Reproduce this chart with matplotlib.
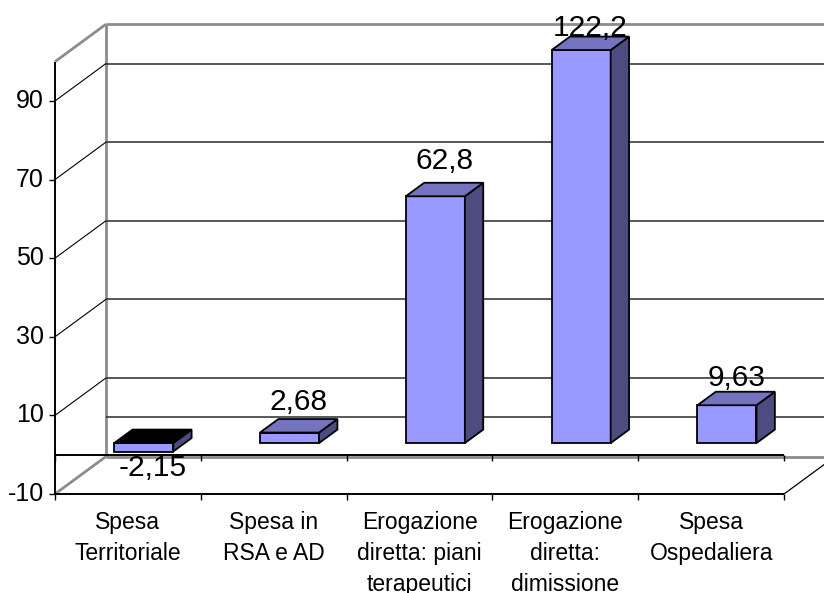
import matplotlib.pyplot as plt
from matplotlib.patches import Polygon

plt.rcParams['font.family'] = ['Liberation Sans', 'DejaVu Sans']

# data
categories = ['Spesa\nTerritoriale', 'Spesa in\nRSA e AD',
              'Erogazione\ndiretta: piani\nterapeutici',
              'Erogazione\ndiretta:\ndimissione', 'Spesa\nOspedaliera']
values = [-2.15, 2.68, 62.8, 122.2, 9.63]
yticks = [-10, 10, 30, 50, 70, 90]
ymin, ymax = -10, 100

# pseudo-3D geometry (oblique projection, depth in data units)
DX, DY = 0.350, 9.54          # full wall depth: categories / value units
T1, T2 = 0.31, 0.67           # bar front / back depth
BAR_W = 0.405
label_dy = [-23, 24, 29, 15, 20]   # px, label offset from bar top

front_c = '#9999FF'
top_c = '#7373BF'
side_c = '#4C4C80'


def p(c, v, t):
    return (c + t * DX, v + t * DY)


def seg(a, b, **kw):
    ax.plot([a[0], b[0]], [a[1], b[1]], solid_capstyle='butt', **kw)


fig = plt.figure(figsize=(8.24, 5.93), dpi=100)
ax = fig.add_axes([0, 0, 1, 1])
ax.axis('off')
ax.set_xlim(-0.377, 5.274)
ax.set_ylim(-35.19, 115.70)

n = len(categories)
frame = dict(color='#8C8C8C', lw=2, zorder=1)

# back wall + floor outline
seg(p(0, ymax, 1), p(n, ymax, 1), **frame)
seg(p(0, ymin, 1), p(0, ymax, 1), **frame)
seg(p(0, ymax, 0), p(0, ymax, 1), **frame)
seg(p(0, ymin, 0), p(0, ymin, 1), **frame)
seg(p(0, ymin, 1), p(n, ymin, 1), **frame)
seg(p(n, ymin, 0), p(n, ymin, 1), color='black', lw=0.9, zorder=1)

# gridlines on back and side walls
for v in [90, 70, 50, 30, 10, 0]:
    seg(p(0, v, 1), p(n, v, 1), color='#2A2A2A', lw=1.1, zorder=1)
for v in yticks[1:]:
    seg(p(0, v, 0), p(0, v, 1), color='black', lw=0.8, zorder=1)

# bars
for i, val in enumerate(values):
    c1 = i + 0.5 - BAR_W / 2
    c2 = c1 + BAR_W
    top = min(val, ymax)
    lo, hi = min(0, top), max(0, top)
    kw = dict(edgecolor='black', lw=1.3, joinstyle='miter', zorder=2)
    ax.add_patch(Polygon([p(c1, lo, T1), p(c2, lo, T1), p(c2, hi, T1), p(c1, hi, T1)],
                         facecolor=front_c, **kw))
    ax.add_patch(Polygon([p(c2, lo, T1), p(c2, lo, T2), p(c2, hi, T2), p(c2, hi, T1)],
                         facecolor=side_c, **kw))
    ax.add_patch(Polygon([p(c1, hi, T1), p(c2, hi, T1), p(c2, hi, T2), p(c1, hi, T2)],
                         facecolor=top_c if val >= 0 else 'black', **kw))
    tm = (T1 + T2) / 2
    ref = top if val >= 0 else val
    ax.annotate(str(val).replace('.', ','), xy=p(i + 0.5, ref, tm),
                xytext=(0, label_dy[i] * 0.72), textcoords='offset points',
                ha='center', va='center', fontsize=21.5, zorder=4)

# front axes
axis = dict(color='black', lw=1.4, zorder=3)
seg(p(0, ymin, 0), p(0, ymax, 0), **axis)
seg(p(0, 0, 0), p(n, 0, 0), **axis)
seg(p(0, ymin, 0), p(n, ymin, 0), **axis)
for k in range(n + 1):
    seg((k, 0), (k, -1.6), color='black', lw=1, zorder=3)
    seg((k, ymin), (k, ymin - 1.6), color='black', lw=1, zorder=3)

for v in yticks:
    seg((-0.042, v), (0, v), color='black', lw=1, zorder=3)
    ax.text(-0.075, v, str(v), ha='right', va='center', fontsize=18, zorder=4)

for i, lab in enumerate(categories):
    ax.text(i + 0.5, ymin - 4.2, lab, ha='center', va='top', fontsize=16.5,
            linespacing=1.45, zorder=4)

plt.savefig('out.png', dpi=100)
